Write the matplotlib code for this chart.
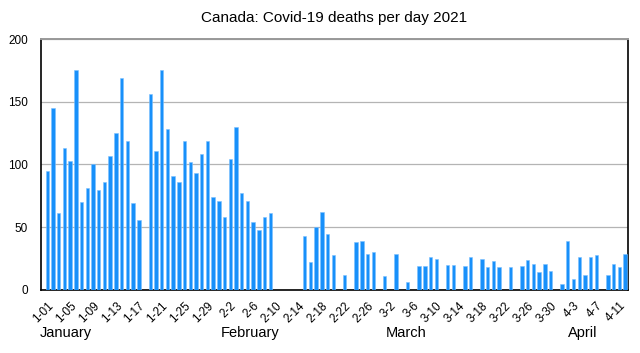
import matplotlib
matplotlib.use('Agg')
import matplotlib.pyplot as plt
import numpy as np

plt.rcParams['font.family'] = ['Liberation Sans', 'DejaVu Sans']

# deaths per day, 1-01 .. 4-12 (2021)
jan = [95, 145, 61, 113, 103, 175, 70, 81, 100, 80, 86, 107, 125, 169, 119, 69,
       56, 0, 156, 111, 175, 128, 91, 86, 119, 102, 93, 108, 119, 74, 71]
feb = [58, 104, 130, 77, 71, 54, 48, 58, 61, 0, 0, 0, 0, 0, 43, 22, 50, 62, 45,
       28, 0, 12, 0, 38, 39, 29, 30, 0]
mar = [11, 0, 29, 0, 6, 0, 19, 19, 26, 25, 0, 20, 20, 0, 19, 26, 0, 25, 18, 23,
       18, 0, 18, 0, 19, 24, 21, 14, 21, 15, 0]
apr = [5, 39, 9, 26, 12, 26, 28, 0, 12, 21, 18, 29]

tick_labels = ['1-01', '1-05', '1-09', '1-13', '1-17', '1-21', '1-25', '1-29',
               '2-2', '2-6', '2-10', '2-14', '2-18', '2-22', '2-26',
               '3-2', '3-6', '3-10', '3-14', '3-18', '3-22', '3-26', '3-30',
               '4-3', '4-7', '4-11']
months = ['January', 'February', 'March', 'April']

deaths = jan + feb + mar + apr
x = np.arange(len(deaths))
month_starts = np.cumsum([0, len(jan), len(feb), len(mar)])
# month names sit a bit off the first day of each month (as in the source)
month_shift = [-1.4, -0.65, 0.2, 1.1]

fig = plt.figure(figsize=(6.4, 3.53), dpi=100)
ax = fig.add_axes([0.0636, 0.1785, 0.9174, 0.711])

ax.bar(x, deaths, width=0.6, color='#1890fa', edgecolor='#7cc0ff', linewidth=0.4,
       zorder=3)

ax.set_xlim(-1.15, len(deaths) - 0.5)
ax.set_ylim(0, 200)
ax.set_yticks([0, 50, 100, 150, 200])
ax.yaxis.grid(color='#b4b4b4', linewidth=0.9)
ax.set_axisbelow(True)

ax.set_xticks(x[::4])
ax.set_xticklabels(tick_labels, rotation=45, ha='right', rotation_mode='anchor')
ax.tick_params(axis='both', length=0, labelsize=8.5)
ax.tick_params(axis='y', pad=9)
ax.tick_params(axis='x', pad=7)

for s in ['left', 'bottom', 'right']:
    ax.spines[s].set_color('black')
    ax.spines[s].set_linewidth(1.2)
ax.spines['top'].set_color('#999999')
ax.spines['top'].set_linewidth(1.4)

ax.set_title('Canada: Covid-19 deaths per day 2021', fontsize=11, pad=12)

for name, start, sh in zip(months, month_starts, month_shift):
    ax.text(start + sh, -0.17, name, transform=ax.get_xaxis_transform(),
            fontsize=10.5, ha='left', va='center')

fig.savefig('out.png', dpi=100)
